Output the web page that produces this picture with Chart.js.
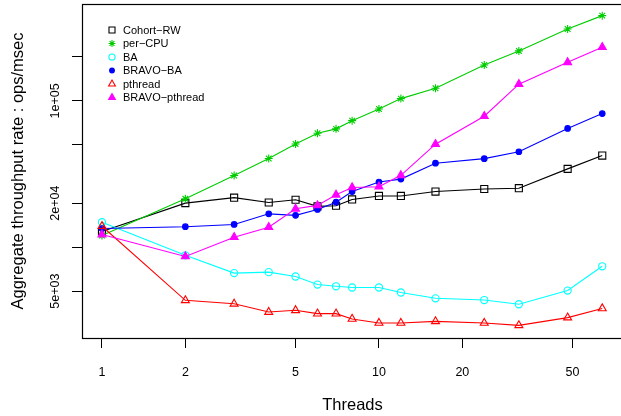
<!DOCTYPE html>
<html><head><meta charset="utf-8">
<script src="https://cdn.jsdelivr.net/npm/chart.js@4/dist/chart.umd.min.js"></script>
<style>html,body{margin:0;padding:0;background:#fff;overflow:hidden;}#wrap{position:relative;width:621px;height:416px;}canvas{display:block;}</style>
</head><body><div id="wrap"><canvas id="c" width="621" height="416" style="width:621px;height:416px"></canvas></div>
<script>
// ---- data ----
const threads = [1, 2, 3, 4, 5, 6, 7, 8, 10, 12, 16, 24, 32, 48, 64];
const cohortRW = [12800, 20000, 21800, 20200, 21100, 19000, 19200, 21200, 22400, 22400, 24000, 25000, 25300, 34300, 42300];
const perCPU = [12000, 21400, 30900, 40400, 50800, 60100, 64400, 73300, 88100, 103700, 122100, 176000, 219700, 310500, 382900];
const ba = [14800, 8800, 6650, 6750, 6300, 5550, 5400, 5300, 5300, 4900, 4470, 4350, 4070, 5050, 7400];
const bravoBA = [13400, 13800, 14300, 16900, 16500, 18100, 20300, 24000, 27900, 29200, 37500, 40300, 44900, 64800, 81900];
const pthread = [13900, 4330, 4100, 3600, 3700, 3510, 3510, 3230, 3030, 3030, 3110, 3030, 2920, 3300, 3810];
const bravoPthread = [12200, 8640, 11700, 13700, 18300, 19300, 22800, 25600, 25900, 31000, 50600, 78600, 130100, 183600, 232800];
const seriesNames = ["Cohort\u2212RW", "per\u2212CPU", "BA", "BRAVO\u2212BA", "pthread", "BRAVO\u2212pthread"];
const xTicks = [1, 2, 5, 10, 20, 50];
const xTickLabels = ["1", "2", "5", "10", "20", "50"];
const yTicks = [5000, 10000, 20000, 50000, 100000, 200000];
const yTickLabels = ["5e+03", "", "2e+04", "", "1e+05", ""];
const xTitle = "Threads";
const yTitle = "Aggregate throughput rate : ops/msec";

// ---- styles ----
const FONT = "'Liberation Sans', Arial, Helvetica, sans-serif";
const styles = [
  {color: '#000000', pointStyle: 'rect', radius: 5, fill: false},
  {color: '#00CD00', pointStyle: 'star', radius: 4, fill: false},
  {color: '#00FFFF', pointStyle: 'circle', radius: 3.6, fill: false},
  {color: '#0000FF', pointStyle: 'circle', radius: 2.8, fill: true},
  {color: '#FF0000', pointStyle: 'triangle', radius: 4.6, fill: false},
  {color: '#FF00FF', pointStyle: 'triangle', radius: 4.6, fill: true}
];
const allSeries = [cohortRW, perCPU, ba, bravoBA, pthread, bravoPthread];

const datasets = allSeries.map((vals, i) => ({
  label: seriesNames[i],
  data: threads.map((t, j) => ({x: t, y: vals[j]})),
  borderColor: styles[i].color,
  backgroundColor: styles[i].fill ? styles[i].color : 'rgba(0,0,0,0)',
  pointBorderColor: styles[i].color,
  pointBackgroundColor: styles[i].fill ? styles[i].color : 'rgba(0,0,0,0)',
  pointStyle: styles[i].pointStyle,
  pointRadius: styles[i].radius,
  pointBorderWidth: 1.1,
  borderWidth: 1.1,
  tension: 0,
  fill: false,
  clip: 8,
  order: allSeries.length - i
}));

const decor = {
  id: 'decor',
  afterDraw(chart) {
    const ctx = chart.ctx;
    const a = chart.chartArea;
    const ys = chart.scales.y;
    ctx.save();
    // frame box (right side falls just outside the picture, as in the original)
    ctx.strokeStyle = '#000';
    ctx.lineWidth = 1.2;
    ctx.strokeRect(a.left + 0.5, a.top + 0.5, a.right - a.left + 3, a.bottom - a.top);
    // y tick labels (rotated, as in the original)
    ctx.fillStyle = '#000';
    ctx.font = '12.5px ' + FONT;
    ctx.textAlign = 'center';
    ctx.textBaseline = 'middle';
    yTicks.forEach((v, i) => {
      if (!yTickLabels[i]) return;
      ctx.save();
      ctx.translate(56, ys.getPixelForValue(v));
      ctx.rotate(-Math.PI / 2);
      ctx.fillText(yTickLabels[i], 0, 0);
      ctx.restore();
    });
    // axis titles
    ctx.font = '16.5px ' + FONT;
    ctx.save();
    ctx.translate(18, (a.top + a.bottom) / 2);
    ctx.rotate(-Math.PI / 2);
    ctx.fillText(yTitle, 0, 0);
    ctx.restore();
    ctx.fillText(xTitle, 352.5, 405);
    // legend
    ctx.font = '11px ' + FONT;
    ctx.textAlign = 'left';
    const lx = 112, ly0 = 30, dy = 13.5;
    seriesNames.forEach((name, i) => {
      const s = styles[i];
      const y = ly0 + i * dy;
      ctx.strokeStyle = s.color;
      ctx.fillStyle = s.fill ? s.color : 'rgba(0,0,0,0)';
      ctx.lineWidth = 1.1;
      Chart.helpers.drawPoint(ctx, {pointStyle: s.pointStyle, rotation: 0, radius: s.radius * 0.85, borderWidth: 1.1}, lx, y);
      ctx.fillStyle = '#000';
      ctx.fillText(name, 123, y + 0.5);
    });
    ctx.restore();
  }
};

new Chart(document.getElementById('c'), {
  type: 'line',
  data: {datasets},
  options: {
    responsive: false,
    maintainAspectRatio: false,
    devicePixelRatio: 1,
    animation: false,
    events: [],
    layout: {autoPadding: false, padding: {top: 4, right: 0, left: 0, bottom: 0}},
    plugins: {legend: {display: false}, tooltip: {enabled: false}, title: {display: false}},
    scales: {
      x: {
        type: 'logarithmic', min: 0.847, max: 74.8,
        afterBuildTicks: s => { s.ticks = xTicks.map(v => ({value: v})); },
        afterFit: s => { s.height = 78; s.paddingLeft = 0; s.paddingRight = 0; },
        ticks: {callback: (v, i) => xTickLabels[i], color: '#000', font: {family: FONT, size: 12.5}, padding: 17, maxRotation: 0, minRotation: 0, autoSkip: false},
        grid: {drawOnChartArea: false, drawTicks: true, tickLength: 10, color: '#000', lineWidth: 1},
        border: {display: true, color: '#000', width: 1}
      },
      y: {
        type: 'logarithmic', min: 2393, max: 459800,
        afterBuildTicks: s => { s.ticks = yTicks.map(v => ({value: v})); },
        afterFit: s => { s.width = 82; s.paddingTop = 0; s.paddingBottom = 0; },
        ticks: {display: false},
        grid: {drawOnChartArea: false, drawTicks: true, tickLength: 10, color: '#000', lineWidth: 1},
        border: {display: true, color: '#000', width: 1}
      }
    }
  },
  plugins: [decor]
});
</script>
</body></html>
